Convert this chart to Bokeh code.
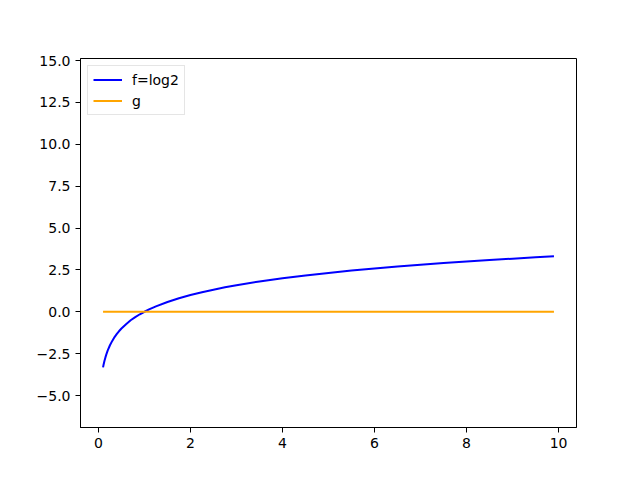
from bokeh.plotting import figure
from bokeh.models import Range1d, FixedTicker, CustomJSTickFormatter, Legend, LegendItem
from bokeh.embed import file_html
from bokeh.resources import INLINE

# data
f_x = [0.1, 0.11, 0.12, 0.13, 0.15, 0.17, 0.2, 0.25, 0.3, 0.35, 0.4, 0.45, 0.5, 0.6,
       0.7, 0.8, 0.9, 1.0, 1.1, 1.25, 1.5, 1.75, 2.0, 2.25, 2.5, 2.75, 3.0, 3.5,
       4.0, 4.5, 5.0, 5.5, 6.0, 6.5, 7.0, 7.5, 8.0, 8.5, 9.0, 9.5, 9.9]
f_y = [-3.32, -3.18, -3.06, -2.94, -2.74, -2.56, -2.32, -2.0, -1.74, -1.51, -1.32,
       -1.15, -1.0, -0.74, -0.51, -0.32, -0.15, 0.0, 0.14, 0.32, 0.58, 0.81, 1.0,
       1.17, 1.32, 1.46, 1.58, 1.81, 2.0, 2.17, 2.32, 2.46, 2.58, 2.70, 2.81, 2.91,
       3.0, 3.09, 3.17, 3.25, 3.31]
g_x = [0.1, 9.9]
g_y = [0.0, 0.0]

x_ticks = [0, 2, 4, 6, 8, 10]
y_ticks = [-5.0, -2.5, 0.0, 2.5, 5.0, 7.5, 10.0, 12.5, 15.0]

p = figure(width=624, height=464, output_backend="svg", toolbar_location=None,
           x_range=Range1d(-0.39, 10.39), y_range=Range1d(-6.91, 15.12),
           min_border_left=80, min_border_right=48, min_border_top=58, min_border_bottom=37)
p.background_fill_color = "white"
p.border_fill_color = "white"
p.outline_line_color = "black"
p.outline_line_width = 1
p.grid.visible = False

r1 = p.line(f_x, f_y, line_color="blue", line_width=2)
r2 = p.line(g_x, g_y, line_color="#FFA500", line_width=2)

for ax in (p.xaxis[0], p.yaxis[0]):
    ax.major_label_text_font = "DejaVu Sans"
    ax.major_label_text_font_size = "14px"
    ax.major_label_text_color = "black"
    ax.minor_tick_line_color = None
    ax.major_tick_in = 0
    ax.major_tick_out = 5
    ax.major_tick_line_color = "black"
    ax.axis_line_color = "black"
    ax.major_label_standoff = 5

p.xaxis[0].ticker = FixedTicker(ticks=x_ticks)
p.yaxis[0].ticker = FixedTicker(ticks=y_ticks)
p.xaxis[0].formatter = CustomJSTickFormatter(code="return tick.toFixed(0).replace('-', '\u2212');")
p.yaxis[0].formatter = CustomJSTickFormatter(code="return tick.toFixed(1).replace('-', '\u2212');")

legend = Legend(items=[LegendItem(label="f=log2", renderers=[r1]),
                       LegendItem(label="g", renderers=[r2])],
                location="top_left")
legend.margin = 7
legend.padding = 5
legend.spacing = 4
legend.glyph_width = 29
legend.glyph_height = 17
legend.label_standoff = 10
legend.label_text_font = "DejaVu Sans"
legend.label_text_font_size = "14px"
legend.label_text_color = "black"
legend.label_height = 17
legend.border_line_color = "#cccccc"
legend.border_line_width = 1
legend.background_fill_alpha = 0.8
p.add_layout(legend)

open("out.html", "w").write(file_html(p, INLINE))
